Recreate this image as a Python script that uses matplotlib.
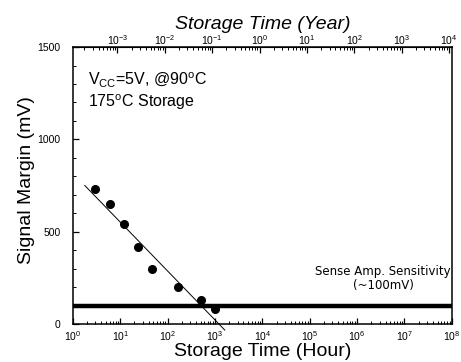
import numpy as np
import matplotlib
matplotlib.use("Agg")
import matplotlib.pyplot as plt
from matplotlib.ticker import LogLocator, MultipleLocator, LogFormatterSciNotation, NullFormatter

plt.rcParams['font.family'] = ['Liberation Sans', 'DejaVu Sans']
plt.rcParams['mathtext.fontset'] = 'custom'
plt.rcParams['mathtext.rm'] = 'Liberation Sans'
plt.rcParams['mathtext.it'] = 'Liberation Sans:italic'
plt.rcParams['mathtext.bf'] = 'Liberation Sans:bold'

# measured retention data
storage_hours = [2.9, 6.0, 12, 24, 48, 167, 500, 1000]
signal_margin_mv = [732, 650, 542, 418, 300, 201, 130, 80]

# fitted trend line end points
fit_hours = [1.79, 1615]
fit_mv = [750, -33]

# sense amplifier sensitivity level
sense_level_mv = 100
HOURS_PER_YEAR = 8760.0

fig = plt.figure(figsize=(4.61, 3.62), dpi=100)
ax = fig.add_axes([0.158, 0.105, 0.822, 0.765])

ax.plot(storage_hours, signal_margin_mv, 'o', color='black', markersize=5.5, zorder=4)
ax.plot(fit_hours, fit_mv, '-', color='black', linewidth=0.7, clip_on=False, zorder=3)
ax.axhline(sense_level_mv, color='black', linewidth=3.2, zorder=2)

ax.set_xscale('log')
ax.set_xlim(1, 1e8)
ax.set_ylim(0, 1500)

ax.xaxis.set_major_locator(LogLocator(base=10, numticks=20))
ax.xaxis.set_minor_locator(LogLocator(base=10, subs=np.arange(2, 10), numticks=20))
ax.xaxis.set_major_formatter(LogFormatterSciNotation())
ax.yaxis.set_major_locator(MultipleLocator(500))
ax.yaxis.set_minor_locator(MultipleLocator(100))

ax.tick_params(axis='both', which='major', direction='in', length=4, width=0.9, labelsize=7.5)
ax.tick_params(axis='both', which='minor', direction='in', length=2, width=0.7)
ax.tick_params(axis='x', which='both', top=False, pad=4)
ax.tick_params(axis='y', which='both', right=False, pad=9)
for s in ax.spines.values():
    s.set_linewidth(1.1)

ax.set_xlabel('Storage Time (Hour)', fontsize=14, labelpad=0)
ax.set_ylabel('Signal Margin (mV)', fontsize=14)
ax.yaxis.set_label_coords(-0.10, 0.518)

top = ax.secondary_xaxis('top', functions=(lambda h: h / HOURS_PER_YEAR,
                                           lambda y: y * HOURS_PER_YEAR))
top.set_xscale('log')
top.xaxis.set_major_locator(LogLocator(base=10, numticks=20))
top.xaxis.set_minor_locator(LogLocator(base=10, subs=np.arange(2, 10), numticks=20))
top.xaxis.set_major_formatter(LogFormatterSciNotation())
top.xaxis.set_minor_formatter(NullFormatter())
top.tick_params(axis='x', which='major', direction='in', length=4, width=0.9, labelsize=7.5, pad=0)
top.tick_params(axis='x', which='minor', direction='in', length=2, width=0.7)
top.set_xlabel('Storage Time (Year)', fontsize=14, style='italic', labelpad=3)

ax.text(0.04, 0.884, r'V$_{\mathrm{CC}}$=5V, @90$^{\mathrm{o}}$C', transform=ax.transAxes,
        fontsize=11.5, ha='left', va='center')
ax.text(0.04, 0.80, r'175$^{\mathrm{o}}$C Storage', transform=ax.transAxes,
        fontsize=11.5, ha='left', va='center')

fig.text(383 / 461, 1 - 272 / 362, 'Sense Amp. Sensitivity', fontsize=8.5,
         family='DejaVu Sans', ha='center', va='center')
fig.text(383 / 461, 1 - 285 / 362, '(~100mV)', fontsize=8.5,
         family='DejaVu Sans', ha='center', va='center')

fig.savefig('out.png', dpi=100)
